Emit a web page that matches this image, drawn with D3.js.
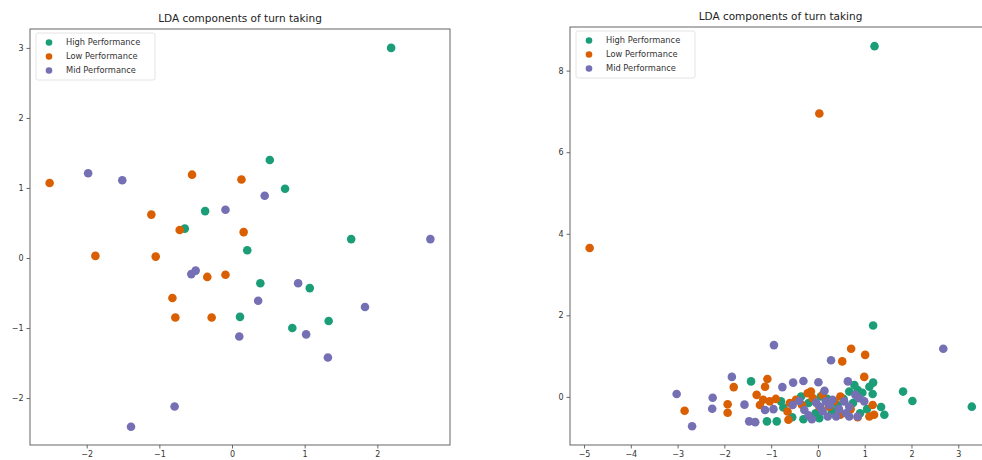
<!DOCTYPE html>
<html>
<head>
<meta charset="utf-8">
<script src="https://cdn.jsdelivr.net/npm/d3@7"></script>
<style>
  body { margin: 0; background: #fff; }
  text { font-family: "DejaVu Sans", sans-serif; }
</style>
</head>
<body>
<div id="chart"></div>
<script>
// groups (legend order = draw order)
const groups = ["High Performance", "Low Performance", "Mid Performance"];
const colors = ["#1b9e77", "#d95f02", "#7570b3"];

// left panel: [LD1, LD2] per group
const leftHigh = [[2.19,3.0],[0.52,1.40],[0.73,0.99],[-0.37,0.67],[-0.65,0.42],[1.64,0.27],[0.21,0.11],
  [0.39,-0.36],[1.07,-0.43],[0.11,-0.84],[1.33,-0.90],[0.83,-1.0]];
const leftLow = [[-2.51,1.07],[-0.55,1.19],[0.13,1.12],[-1.11,0.62],[-0.72,0.40],[0.16,0.37],[-1.88,0.03],
  [-1.05,0.02],[-0.34,-0.27],[-0.09,-0.24],[-0.82,-0.57],[-0.78,-0.85],[-0.28,-0.85]];
const leftMid = [[-1.98,1.21],[-1.51,1.11],[-0.09,0.69],[0.45,0.89],[2.73,0.27],[-0.56,-0.23],[-0.50,-0.18],
  [0.91,-0.36],[0.36,-0.61],[1.83,-0.70],[1.02,-1.09],[0.10,-1.12],[1.32,-1.42],[-0.79,-2.12],[-1.39,-2.41]];

// right panel
const rightHigh = [[1.21,8.6],[1.18,1.75],[3.29,-0.24],[1.82,0.13],[2.02,-0.10],[-1.43,0.38],[1.18,0.35],
  [1.17,0.07],[-1.09,-0.6],[-0.88,-0.6],[-0.31,-0.55],[0.03,-0.52],[1.42,-0.44],[1.35,-0.25],[-0.79,-0.11],
  [-0.74,-0.26],[-0.36,0.01],[0.06,0.01],[0.42,-0.2],[0.67,0.13],[0.78,0.29],[0.85,0.17],[-0.05,-0.4],
  [0.3,-0.35],[0.95,0.1],[-0.2,-0.15],[0.55,-0.05],[1.05,-0.3],[0.75,-0.15],[0.2,-0.05],[-0.55,-0.5],
  [0.9,-0.4],[1.1,0.25]];
const rightLow = [[0.03,6.95],[-4.88,3.65],[-2.85,-0.34],[-1.93,-0.18],[-1.93,-0.39],[-1.80,0.24],[0.52,0.87],
  [0.71,1.18],[1.01,1.03],[0.99,0.49],[-1.08,0.44],[-1.13,0.25],[-1.31,0.05],[-1.17,-0.07],[-1.03,-0.11],
  [-1.24,-0.2],[-0.63,-0.56],[0.48,-0.44],[1.10,-0.48],[1.20,-0.44],[-0.65,-0.36],[-0.47,-0.07],[-0.22,0.09],
  [-0.15,0.13],[-0.11,-0.03],[0.24,-0.24],[0.48,0.01],[1.17,-0.2],[0.03,-0.24],[-0.34,-0.2],[0.7,-0.3],[-0.9,-0.05],
  [0.35,-0.1],[-0.6,-0.15],[0.85,-0.5],[0.1,0.05]];
const rightMid = [[-0.94,1.27],[2.68,1.18],[-3.02,0.07],[-2.69,-0.72],[-2.25,-0.02],[-2.26,-0.29],[-1.84,0.49],
  [-1.57,-0.19],[0.28,0.90],[-1.13,-0.32],[-0.76,0.24],[-0.53,0.35],[-0.31,0.39],[0.01,0.36],[0.64,0.38],
  [-1.47,-0.6],[-1.34,-0.62],[-0.13,-0.55],[0.21,-0.48],[0.39,-0.48],[0.67,-0.48],[0.85,-0.48],[-0.54,-0.2],
  [-0.29,-0.32],[-0.04,-0.14],[0.14,0.15],[0.17,-0.11],[0.31,-0.07],[0.56,-0.11],[0.88,-0.03],[0.99,-0.11],
  [0.67,-0.24],[-0.95,-0.3],[0.1,-0.35],[0.45,-0.3],[-0.2,-0.45],[0.05,-0.25],[0.6,-0.4],[-0.4,-0.1],
  [0.25,-0.2],[0.8,0.05]];

const leftXTicks = [-2, -1, 0, 1, 2];
const leftYTicks = [-2, -1, 0, 1, 2, 3];
const rightXTicks = [-5, -4, -3, -2, -1, 0, 1, 2, 3];
const rightYTicks = [0, 2, 4, 6, 8];

const svg = d3.select("#chart")
    .append("svg")
    .attr("width", 982)
    .attr("height", 460);

function panel(opts) {
    const {left, top, width, height, xDomain, yDomain, xTicks, yTicks, series} = opts;
    const g = svg.append("g").attr("transform", `translate(${left},${top})`);

    const x = d3.scaleLinear().domain(xDomain).range([0, width]);
    const y = d3.scaleLinear().domain(yDomain).range([height, 0]);

    // axes
    const xAxis = g.append("g")
        .attr("transform", `translate(0,${height})`)
        .call(d3.axisBottom(x).tickValues(xTicks).tickSize(3.5).tickPadding(3).tickFormat(d => d < 0 ? "\u2212" + (-d) : d));
    const yAxis = g.append("g")
        .call(d3.axisLeft(y).tickValues(yTicks).tickSize(3.5).tickPadding(3).tickFormat(d => d < 0 ? "\u2212" + (-d) : d));
    [xAxis, yAxis].forEach(a => {
        a.select(".domain").remove();
        a.selectAll("line").attr("stroke", "#444").attr("stroke-width", 0.8);
        a.selectAll("text").style("font-size", "8px").attr("fill", "#333").style("font-family", "DejaVu Sans");
    });

    // frame
    g.append("rect")
        .attr("width", width).attr("height", height)
        .attr("fill", "none").attr("stroke", "#555").attr("stroke-width", 0.9);

    // points
    series.forEach((pts, i) => {
        g.append("g").selectAll("circle")
            .data(pts)
            .enter().append("circle")
            .attr("cx", d => x(d[0]))
            .attr("cy", d => y(d[1]))
            .attr("r", 4.3)
            .attr("fill", colors[i]);
    });

    // title
    g.append("text")
        .attr("x", width / 2)
        .attr("y", -7)
        .attr("text-anchor", "middle")
        .style("font-size", "10.5px")
        .attr("fill", "#222")
        .text("LDA components of turn taking");

    // legend
    const legend = g.append("g").attr("transform", "translate(6,4)");
    legend.append("rect")
        .attr("width", 119).attr("height", 47).attr("rx", 2)
        .attr("fill", "#fff").attr("fill-opacity", 0.8)
        .attr("stroke", "#ddd").attr("stroke-width", 0.8);
    groups.forEach((name, i) => {
        legend.append("circle")
            .attr("cx", 13).attr("cy", 9.5 + i * 14)
            .attr("r", 3.3).attr("fill", colors[i]);
        legend.append("text")
            .attr("x", 30).attr("y", 9.5 + i * 14)
            .attr("dy", "0.35em")
            .style("font-size", "8.3px")
            .attr("fill", "#333")
            .text(name);
    });
}

panel({
    left: 30, top: 29, width: 420, height: 416,
    xDomain: [-2.78, 3.0], yDomain: [-2.67, 3.27],
    xTicks: leftXTicks, yTicks: leftYTicks,
    series: [leftHigh, leftLow, leftMid]
});

panel({
    left: 570, top: 27, width: 421, height: 418,
    xDomain: [-5.3, 3.7], yDomain: [-1.18, 9.07],
    xTicks: rightXTicks, yTicks: rightYTicks,
    series: [rightHigh, rightLow, rightMid]
});
</script>
</body>
</html>
